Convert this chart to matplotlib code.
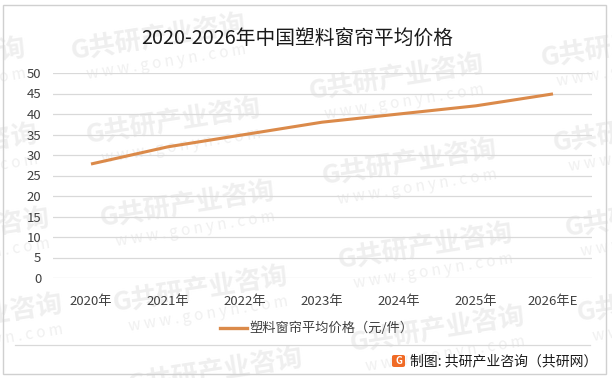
import matplotlib
matplotlib.use("Agg")
import matplotlib.pyplot as plt
from matplotlib.patches import Rectangle, FancyBboxPatch
from matplotlib.lines import Line2D

plt.rcParams['font.family'] = ['Noto Sans CJK SC', 'DejaVu Sans']

categories = ["2020年", "2021年", "2022年", "2023年", "2024年", "2025年", "2026年E"]
values = [27.8, 32.0, 35.0, 38.0, 40.0, 42.0, 44.9]
series_name = "塑料窗帘平均价格（元/件）"
title = "2020-2026年中国塑料窗帘平均价格"
source = "制图: 共研产业咨询（共研网）"
yticks = [0, 5, 10, 15, 20, 25, 30, 35, 40, 45, 50]
wm_text = "G共研产业咨询"
wm_url = "w w w . g o n y n . c o m"

W, H = 612, 378
fig = plt.figure(figsize=(W / 100, H / 100), dpi=100)

def px(x, y):
    return x / W, 1 - y / H

# watermarks (tiled, behind everything)
wm_centers = [(158, 38), (173, 122), (187, 205), (200, 290), (215, 372),
              (396, 78), (409, 163), (425, 247), (437, 330),
              (628, 45), (640, 130), (652, 215), (664, 300),
              (-62, 62), (-50, 148), (-38, 232), (-25, 318)]
for (cx, cy) in wm_centers:
    fx, fy = px(cx, cy)
    fig.text(fx, fy, wm_text, fontsize=19, fontweight='bold', color='#efefef',
             rotation=9, ha='center', va='center', zorder=-2)
    fx2, fy2 = px(cx + 8, cy + 24)
    fig.text(fx2, fy2, wm_url, fontsize=11, color='#f0f0f0',
             rotation=9, ha='center', va='center', zorder=-2)

# axes: x 52.5..591.5, y 73..278 (pixels from top)
ax = fig.add_axes([52.5 / W, 1 - 278 / H, (591.5 - 52.5) / W, (278 - 73) / H])
ax.set_facecolor('none')
x = list(range(len(categories)))
ax.plot(x, values, color='#DB8A4A', linewidth=2.2, solid_capstyle='butt', zorder=3)
ax.set_xlim(-0.5, len(categories) - 0.5)
ax.set_ylim(0, 50)
ax.set_yticks(yticks)
ax.set_xticks(x)
ax.set_xticklabels(categories)
ax.grid(axis='y', color='#d9d9d9', linewidth=0.9)
ax.set_axisbelow(True)
for s in ax.spines.values():
    s.set_visible(False)
ax.tick_params(axis='both', length=0, labelsize=9.5, labelcolor='#404040')
ax.tick_params(axis='y', pad=8)
ax.tick_params(axis='x', pad=12)

# title
tx, ty = px(297, 38)
fig.text(tx, ty, title, fontsize=14.2, ha='center', va='center', color='#1a1a1a')

# legend
lx0, ly = px(220, 328)
lx1, _ = px(247, 328)
fig.lines.append(Line2D([lx0, lx1], [ly, ly], color='#DB8A4A',
                        linewidth=2.4, transform=fig.transFigure))
ltx, _ = px(249, 328)
fig.text(ltx, ly, series_name, fontsize=9.5, ha='left', va='center', color='#404040')

# separator line
sx0, sy = px(15, 345)
sx1, _ = px(590, 345)
fig.lines.append(Line2D([sx0, sx1], [sy, sy], color='#d9d9d9',
                        linewidth=0.9, transform=fig.transFigure))

# source with logo
bx, by = px(392, 367)
fig.patches.append(FancyBboxPatch((bx, by), 13 / W, 12 / H,
                                  boxstyle='round,pad=0,rounding_size=0.004',
                                  facecolor='#F06A25', edgecolor='none',
                                  transform=fig.transFigure))
gx, gy = px(398.5, 361)
fig.text(gx, gy, "G", fontsize=7, fontweight='bold', color='white',
         ha='center', va='center')
stx, sty = px(410, 361)
fig.text(stx, sty, source, fontsize=10, ha='left', va='center', color='#1a1a1a')

# outer border
fig.patches.append(Rectangle((3 / W, 4 / H), (606 - 3) / W, (373 - 4) / H, fill=False,
                             edgecolor='#d0d0d0', linewidth=1, transform=fig.transFigure))

fig.savefig("out.png", dpi=100)
